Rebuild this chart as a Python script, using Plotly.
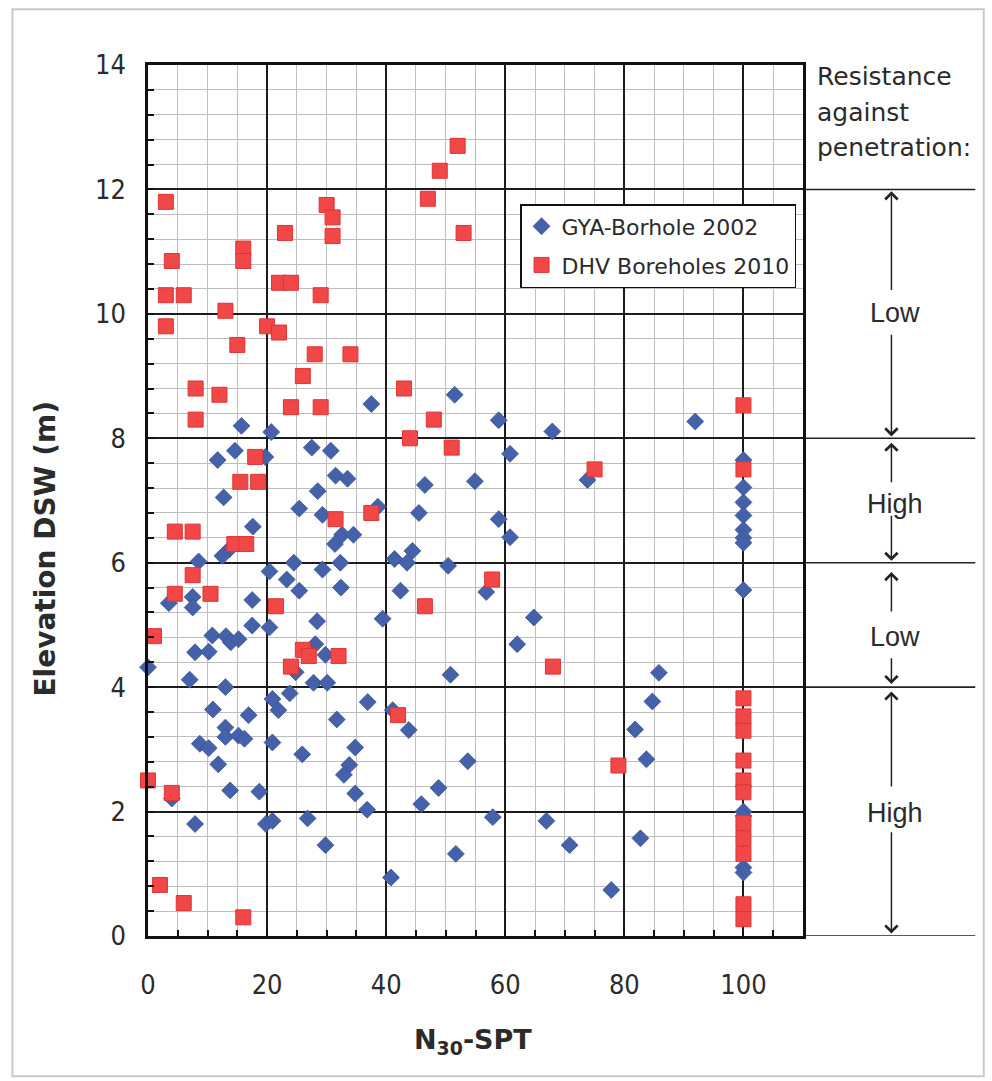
import plotly.graph_objects as go

# GYA borehole 2002: SPT blow count N30 and elevation (m DSW)
gya_n = [51.5, 37.5, 91.9, 58.9, 67.9, 15.7, 20.7,
         27.5, 30.7, 14.6, 19.7, 11.7, 60.8,
         31.5, 33.5, 46.5, 54.9, 73.8, 28.5, 12.7,
         25.4, 29.3, 38.6, 45.5, 58.9, 17.6, 32.6, 34.5, 60.8, 31.4,
         13.7, 12.5, 8.5, 24.5, 32.3, 29.3, 20.4, 41.4, 44.4, 43.5, 50.4,
         23.3, 25.4, 32.4, 42.4, 56.8, 7.5, 7.5, 3.5, 17.5,
         39.4, 28.4, 64.8, 17.5, 20.4,
         10.8, 13.1, 13.9, 15.2, 7.9, 10.2, 0.0, 28.1, 29.8, 62.0,
         24.8, 7.0, 13.0, 27.8, 30.1, 50.8, 85.8,
         23.8, 20.9, 21.9, 36.9, 84.7, 10.9, 16.9, 41.1, 31.7, 43.8, 81.8,
         13.0, 13.0, 15.2, 16.2, 8.7, 10.2, 20.9, 34.8, 25.9,
         11.8, 33.8, 32.9, 53.7, 83.7, 13.8, 18.7, 4.0, 34.8, 36.8, 48.8, 45.9,
         7.9, 19.8, 20.9, 26.8, 57.9, 66.9, 29.8, 70.8, 82.7, 51.7, 40.8, 77.8,
         100, 100, 100, 100, 100, 100, 100, 100, 100, 100, 100, 100]
gya_elev = [8.70, 8.55, 8.27, 8.29, 8.11, 8.20, 8.10,
            7.85, 7.80, 7.80, 7.70, 7.65, 7.75,
            7.40, 7.35, 7.25, 7.31, 7.33, 7.15, 7.05,
            6.87, 6.77, 6.90, 6.80, 6.70, 6.58, 6.45, 6.45, 6.41, 6.30,
            6.22, 6.11, 6.02, 6.00, 6.00, 5.89, 5.86, 6.06, 6.19, 6.00, 5.95,
            5.73, 5.55, 5.60, 5.55, 5.53, 5.45, 5.28, 5.35, 5.40,
            5.10, 5.06, 5.12, 4.99, 4.96,
            4.83, 4.82, 4.72, 4.77, 4.56, 4.57, 4.32, 4.69, 4.52, 4.69,
            4.24, 4.12, 4.00, 4.07, 4.07, 4.20, 4.23,
            3.90, 3.81, 3.63, 3.76, 3.77, 3.64, 3.55, 3.63, 3.48, 3.31, 3.32,
            3.35, 3.20, 3.22, 3.17, 3.09, 3.02, 3.11, 3.03, 2.92,
            2.76, 2.75, 2.59, 2.81, 2.84, 2.34, 2.32, 2.21, 2.29, 2.03, 2.38, 2.12,
            1.80, 1.80, 1.85, 1.89, 1.91, 1.85, 1.46, 1.46, 1.57, 1.32, 0.94, 0.74,
            7.65, 7.21, 6.97, 6.76, 6.53, 6.40, 6.32, 5.56, 2.00, 1.93, 1.10, 1.02]

# DHV boreholes 2010
dhv_n = [52, 49, 47, 53, 3, 30, 31, 31, 23, 4, 16, 16, 22, 24,
         3, 6, 29, 13, 3, 20, 22, 15, 28, 34, 26, 8, 12, 43,
         24, 29, 8, 48, 44, 51, 18, 15.5, 18.5, 75, 31.5, 37.5,
         4.5, 7.5, 14.5, 16.5, 7.5, 57.8, 4.5, 10.5, 21.5, 46.5,
         1, 26, 27, 32, 24, 68, 42, 79, 0, 4, 2, 6, 16,
         100, 100, 100, 100, 100, 100, 100, 100, 100, 100, 100, 100, 100]
dhv_elev = [12.70, 12.30, 11.85, 11.30, 11.80, 11.75, 11.55, 11.25, 11.30, 10.85, 11.05, 10.85, 10.50, 10.50,
            10.30, 10.30, 10.30, 10.05, 9.80, 9.80, 9.70, 9.50, 9.35, 9.35, 9.00, 8.80, 8.70, 8.80,
            8.50, 8.50, 8.30, 8.30, 8.00, 7.85, 7.70, 7.30, 7.30, 7.50, 6.70, 6.80,
            6.50, 6.50, 6.30, 6.30, 5.80, 5.73, 5.50, 5.50, 5.30, 5.30,
            4.82, 4.60, 4.50, 4.50, 4.33, 4.33, 3.55, 2.74, 2.50, 2.30, 0.82, 0.53, 0.30,
            8.53, 7.50, 3.82, 3.53, 3.30, 2.82, 2.50, 2.31, 1.82, 1.57, 1.32, 0.51, 0.27]

# Resistance zones on the right: (label, label elevation, arrow-up tail, arrow-up head,
# arrow-down tail, arrow-down head)
zone_bounds = [12, 8, 6, 4, 0]
zones = [
    ("Low", 10.01, 10.36, 11.97, 9.69, 8.03),
    ("High", 6.94, 7.27, 7.93, 6.78, 6.03),
    ("Low", 4.80, 5.19, 5.85, 4.49, 4.05),
    ("High", 1.98, 2.38, 3.93, 1.69, 0.04),
]

SANS = "DejaVu Sans, sans-serif"
COND = "DejaVu Sans Condensed, DejaVu Sans, sans-serif"
TXT = "#2b2b2b"

fig = go.Figure()
fig.add_trace(go.Scatter(
    x=gya_n, y=gya_elev, mode="markers", name="GYA-Borhole 2002",
    legendgroup="a",
    marker=dict(symbol="diamond", size=13, color="#4561A9",
                line=dict(color="#3A5499", width=0.8)),
    cliponaxis=False,
))
fig.add_trace(go.Scatter(
    x=dhv_n, y=dhv_elev, mode="markers", name="DHV Boreholes 2010",
    legendgroup="b",
    marker=dict(symbol="square", size=15, color="#F24747",
                line=dict(color="#DF3535", width=1)),
    cliponaxis=False,
))

shapes = []
# horizontal zone boundaries right of the plot
for yb in zone_bounds:
    shapes.append(dict(type="line", xref="paper", yref="y",
                       x0=1.003, x1=1.263, y0=yb, y1=yb,
                       line=dict(color="#222222", width=1.6)))
# light outer frame
shapes.append(dict(type="rect", xref="paper", yref="paper",
                   x0=-0.207, x1=1.276, y0=-0.161, y1=1.064,
                   line=dict(color="#C9C9C9", width=2), layer="below"))

ann = []
arrow_x = 1.135
for label, ly, ut, uh, dt, dh in zones:
    ann.append(dict(xref="paper", yref="y", x=arrow_x + 0.005, y=ly, text=label,
                    xanchor="center", yanchor="middle", showarrow=False,
                    font=dict(family="Liberation Sans, Arial", size=27, color=TXT)))
    for tail, head in ((ut, uh), (dt, dh)):
        ann.append(dict(xref="paper", yref="y", x=arrow_x, y=head,
                        axref="pixel", ayref="y", ax=0, ay=tail, text="",
                        showarrow=True, arrowhead=4, arrowsize=1.6, arrowwidth=1.5,
                        arrowcolor="#222222"))

for txt, yy in (("Resistance", 13.81), ("against", 13.23), ("penetration:", 12.67)):
    ann.append(dict(xref="paper", yref="y", x=1.018, y=yy, text=txt,
                    xanchor="left", yanchor="middle", showarrow=False,
                    font=dict(family=SANS, size=25, color=TXT)))

ann.append(dict(xref="paper", yref="paper", x=-0.157, y=0.445,
                xanchor="center", yanchor="middle",
                text="<b>Elevation DSW (m)</b>", textangle=-90, showarrow=False,
                font=dict(family=SANS, size=28, color=TXT)))
ann.append(dict(xref="paper", yref="paper", x=0.496, y=-0.1215,
                xanchor="center", yanchor="middle",
                text="<b>N<sub>30</sub>-SPT</b>", showarrow=False,
                font=dict(family=SANS, size=27, color=TXT)))

axis_common = dict(
    ticks="inside", ticklen=6, tickcolor="#111111", tickwidth=1.5,
    showgrid=True, gridcolor="#1c1c1c", gridwidth=2,
    showline=True, mirror=True, linecolor="#111111", linewidth=2.5,
    zeroline=False, tickfont=dict(family=COND, size=27, color=TXT),
)

fig.update_layout(
    width=992, height=1081,
    margin=dict(l=148, r=189, t=65, b=145),
    paper_bgcolor="white", plot_bgcolor="white",
    shapes=shapes, annotations=ann,
    showlegend=True,
    legend=dict(x=0.568, y=0.8404, xanchor="left", yanchor="top",
                bgcolor="white", bordercolor="#111111", borderwidth=1.5,
                font=dict(family=SANS, size=22, color=TXT),
                tracegroupgap=7, itemsizing="trace"),
    xaxis=dict(range=[0, 110], tick0=0, dtick=20, ticklabelstandoff=23,
               minor=dict(dtick=5, tick0=0, ticks="inside", ticklen=6,
                          tickcolor="#111111", showgrid=True,
                          gridcolor="#BEBEBE", gridwidth=1),
               **axis_common),
    yaxis=dict(range=[0, 14], tick0=0, dtick=2, ticklabelstandoff=14,
               minor=dict(dtick=0.4, tick0=0, ticks="inside", ticklen=6,
                          tickcolor="#111111", showgrid=True,
                          gridcolor="#BEBEBE", gridwidth=1),
               **axis_common),
)

fig.write_html("out.html")
